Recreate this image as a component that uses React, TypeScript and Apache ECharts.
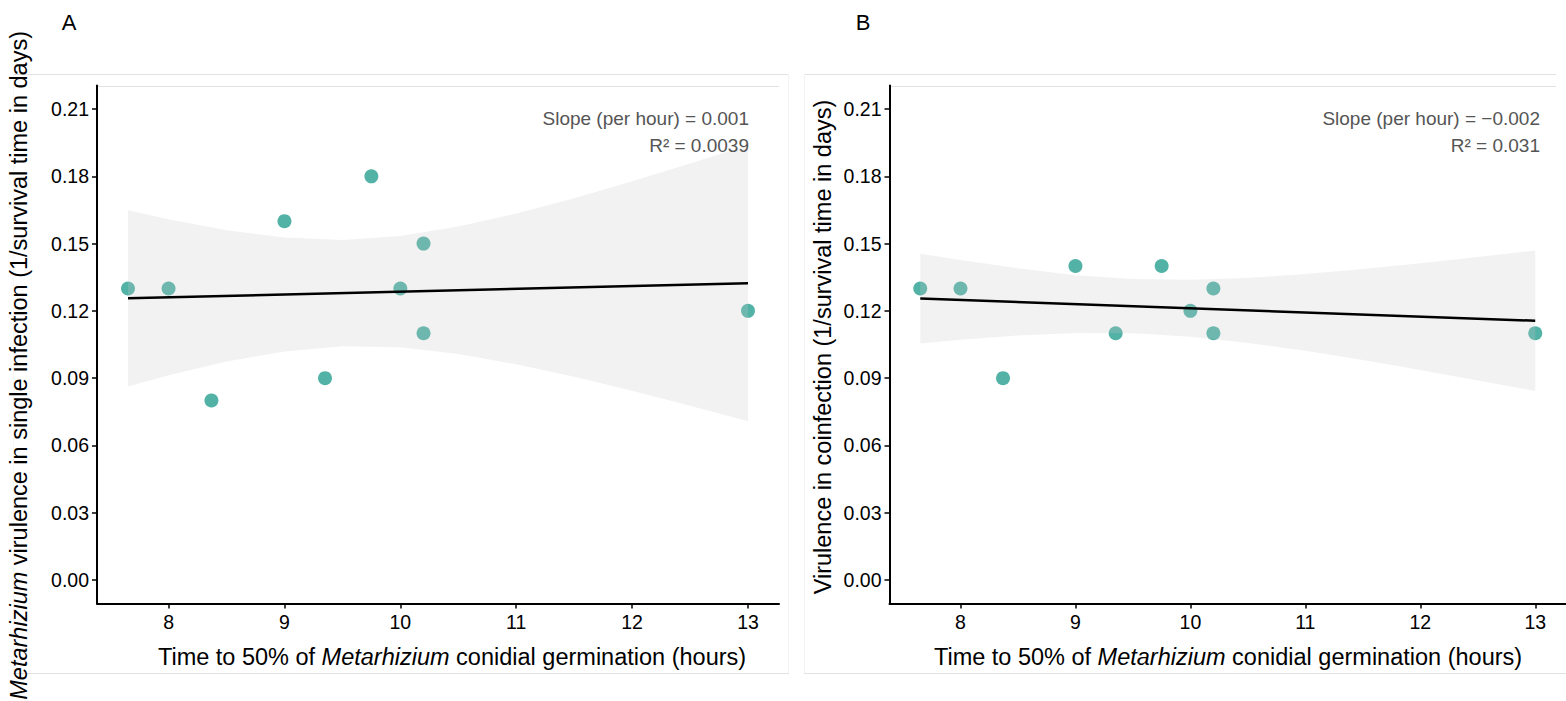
import React, { useEffect, useRef } from "react";
import * as echarts from "echarts";

const germX = [7.65, 8, 8.37, 9, 9.35, 9.75, 10, 10.2, 10.2, 13];
const singleY = [0.13, 0.13, 0.08, 0.16, 0.09, 0.18, 0.13, 0.15, 0.11, 0.12];
const coY = [0.13, 0.13, 0.09, 0.14, 0.11, 0.14, 0.12, 0.13, 0.11, 0.11];

// Fitted lines (end points)
const fitX = [7.65, 13];
const singleFit = [0.1256, 0.1323];
const coFit = [0.1255, 0.1156];

// Confidence bands
const bandX = [7.65, 8, 8.5, 9, 9.5, 10, 10.5, 11, 11.5, 12, 12.5, 13];
const singleUpper = [0.1649, 0.1609, 0.156, 0.1527, 0.1516, 0.1534, 0.1576, 0.1634, 0.1702, 0.1778, 0.1857, 0.1938];
const singleLower = [0.0863, 0.0913, 0.0974, 0.1019, 0.1042, 0.1038, 0.1008, 0.0962, 0.0906, 0.0844, 0.0777, 0.0708];
const coUpper = [0.1455, 0.1427, 0.139, 0.1359, 0.1342, 0.1339, 0.1347, 0.1364, 0.1387, 0.1412, 0.144, 0.1469];
const coLower = [0.1055, 0.1071, 0.109, 0.1101, 0.11, 0.1085, 0.1057, 0.1022, 0.0981, 0.0936, 0.089, 0.0843];

const xTicks = [8, 9, 10, 11, 12, 13];
const yTicks = [0, 0.03, 0.06, 0.09, 0.12, 0.15, 0.18, 0.21];

const panelLetters = ["A", "B"];
const slopeTexts = ["Slope (per hour) = 0.001", "Slope (per hour) = \u22120.002"];
const r2Texts = ["R\u00b2 = 0.0039", "R\u00b2 = 0.031"];

const FONT = "'Liberation Sans', Arial, Helvetica, sans-serif";
const POINT = "#52b2a6";
const BAND = "rgba(200,200,200,0.24)";
const TITLE_SIZE = 23.5;
const TICK_SIZE = 19.5;
const NOTE_SIZE = 19;

function bandSeries(idx: number, upper: number[], lower: number[]) {
  return {
    type: "custom",
    xAxisIndex: idx,
    yAxisIndex: idx,
    z: 3,
    silent: true,
    data: bandX.map((x, i) => [x, upper[i], lower[i]]),
    encode: { x: 0, y: [1, 2] },
    renderItem: (params: any, api: any) => {
      if (params.dataIndex !== 0) return null;
      const pts: number[][] = [];
      for (let i = 0; i < bandX.length; i++) pts.push(api.coord([bandX[i], upper[i]]));
      for (let i = bandX.length - 1; i >= 0; i--) pts.push(api.coord([bandX[i], lower[i]]));
      return { type: "polygon", shape: { points: pts }, style: { fill: BAND } };
    },
  };
}

export default function App() {
  const ref = useRef<HTMLDivElement>(null);
  useEffect(() => {
    document.body.style.margin = "0";
    if (!ref.current) return;
    const chart = echarts.init(ref.current, null, { renderer: "svg" });
    const grids = [
      { left: 97, top: 85.5, width: 682, height: 518 },
      { left: 889.5, top: 85.5, width: 682, height: 518 },
    ];
    const xAxis = [0, 1].map((i) => ({
      type: "value",
      gridIndex: i,
      min: 7.3825,
      max: 13.2675,
      splitLine: { show: false },
      axisLine: { show: true, onZero: false, lineStyle: { color: "#000", width: 2 } },
      axisTick: { show: true, customValues: xTicks, length: 5, lineStyle: { color: "#000", width: 1.5 } },
      axisLabel: { customValues: xTicks, color: "#000", fontSize: TICK_SIZE, fontFamily: FONT, margin: 8 },
    }));
    const yAxis = [0, 1].map((i) => ({
      type: "value",
      gridIndex: i,
      min: -0.0105,
      max: 0.2205,
      splitLine: { show: false },
      axisLine: { show: true, onZero: false, lineStyle: { color: "#000", width: 2 } },
      axisTick: { show: true, customValues: yTicks, length: 5, lineStyle: { color: "#000", width: 1.5 } },
      axisLabel: {
        customValues: yTicks,
        color: "#000",
        fontSize: TICK_SIZE,
        fontFamily: FONT,
        margin: 8,
        formatter: (v: number) => v.toFixed(2),
      },
    }));
    const series: any[] = [];
    const ys = [singleY, coY];
    const fits = [singleFit, coFit];
    const bands = [
      [singleUpper, singleLower],
      [coUpper, coLower],
    ];
    [0, 1].forEach((i) => {
      series.push({
        type: "scatter",
        xAxisIndex: i,
        yAxisIndex: i,
        z: 2,
        symbolSize: 14,
        itemStyle: { color: POINT, opacity: 1 },
        data: germX.map((x, j) => [x, ys[i][j]]),
      });
      series.push(bandSeries(i, bands[i][0], bands[i][1]));
      series.push({
        type: "line",
        xAxisIndex: i,
        yAxisIndex: i,
        z: 4,
        symbol: "none",
        lineStyle: { color: "#000", width: 2.5 },
        data: fitX.map((x, j) => [x, fits[i][j]]),
      });
    });

    const hLine = (x1: number, x2: number, y: number, color: string) => ({
      type: "line",
      silent: true,
      z: 0,
      shape: { x1, y1: y, x2, y2: y },
      style: { stroke: color, lineWidth: 1 },
    });
    const vLine = (x: number, y1: number, y2: number, color: string) => ({
      type: "line",
      silent: true,
      z: 0,
      shape: { x1: x, y1, x2: x, y2 },
      style: { stroke: color, lineWidth: 1 },
    });
    const txt = (x: number, y: number, text: string, extra: any) => ({
      type: "text",
      x,
      y,
      z: 10,
      style: { text, fontFamily: FONT, fill: "#000", ...extra },
    });
    const italic = { fontStyle: "italic", fontFamily: FONT, fontSize: TITLE_SIZE, fill: "#000" };
    const xTitle = (x: number) => ({
      type: "text",
      x,
      y: 657,
      z: 10,
      style: {
        text: "Time to 50% of {i|Metarhizium} conidial germination (hours)",
        fontFamily: FONT,
        fontSize: TITLE_SIZE,
        fill: "#000",
        align: "center",
        verticalAlign: "middle",
        rich: { i: italic },
      },
    });
    const graphic: any[] = [
      hLine(13, 789, 74.5, "#e2e2e2"),
      hLine(13, 789, 673.5, "#e2e2e2"),
      vLine(13.5, 74, 673, "#f7f7f7"),
      vLine(788.5, 74, 673, "#f3f3f3"),
      hLine(97, 779, 86.5, "#e2e2e2"),
      hLine(804, 1556, 74.5, "#e2e2e2"),
      hLine(804, 1566, 673.5, "#e2e2e2"),
      vLine(804.5, 74, 673, "#f3f3f3"),
      hLine(889, 1556, 86.5, "#e2e2e2"),
      txt(69, 22, panelLetters[0], { fontSize: 22, align: "center", verticalAlign: "middle" }),
      txt(863, 22, panelLetters[1], { fontSize: 22, align: "center", verticalAlign: "middle" }),
      txt(749, 118, slopeTexts[0], { fontSize: NOTE_SIZE, fill: "#555", align: "right", verticalAlign: "middle" }),
      txt(749, 145, r2Texts[0], { fontSize: NOTE_SIZE, fill: "#555", align: "right", verticalAlign: "middle" }),
      txt(1540, 118, slopeTexts[1], { fontSize: NOTE_SIZE, fill: "#555", align: "right", verticalAlign: "middle" }),
      txt(1540, 145, r2Texts[1], { fontSize: NOTE_SIZE, fill: "#555", align: "right", verticalAlign: "middle" }),
      xTitle(452),
      xTitle(1228),
      {
        type: "text",
        x: 19,
        y: 31,
        rotation: Math.PI / 2,
        z: 10,
        style: {
          text: "{i|Metarhizium} virulence in single infection (1/survival time in days)",
          fontFamily: FONT,
          fontSize: TITLE_SIZE,
          fill: "#000",
          align: "right",
          verticalAlign: "middle",
          rich: { i: italic },
        },
      },
      {
        type: "text",
        x: 823,
        y: 347,
        rotation: Math.PI / 2,
        z: 10,
        style: {
          text: "Virulence in coinfection (1/survival time in days)",
          fontFamily: FONT,
          fontSize: TITLE_SIZE,
          fill: "#000",
          align: "center",
          verticalAlign: "middle",
        },
      },
    ];

    chart.setOption({
      animation: false,
      backgroundColor: "#fff",
      grid: grids,
      xAxis,
      yAxis,
      series,
      graphic,
    });
    return () => chart.dispose();
  }, []);
  return <div ref={ref} style={{ width: 1566, height: 701 }} />;
}
